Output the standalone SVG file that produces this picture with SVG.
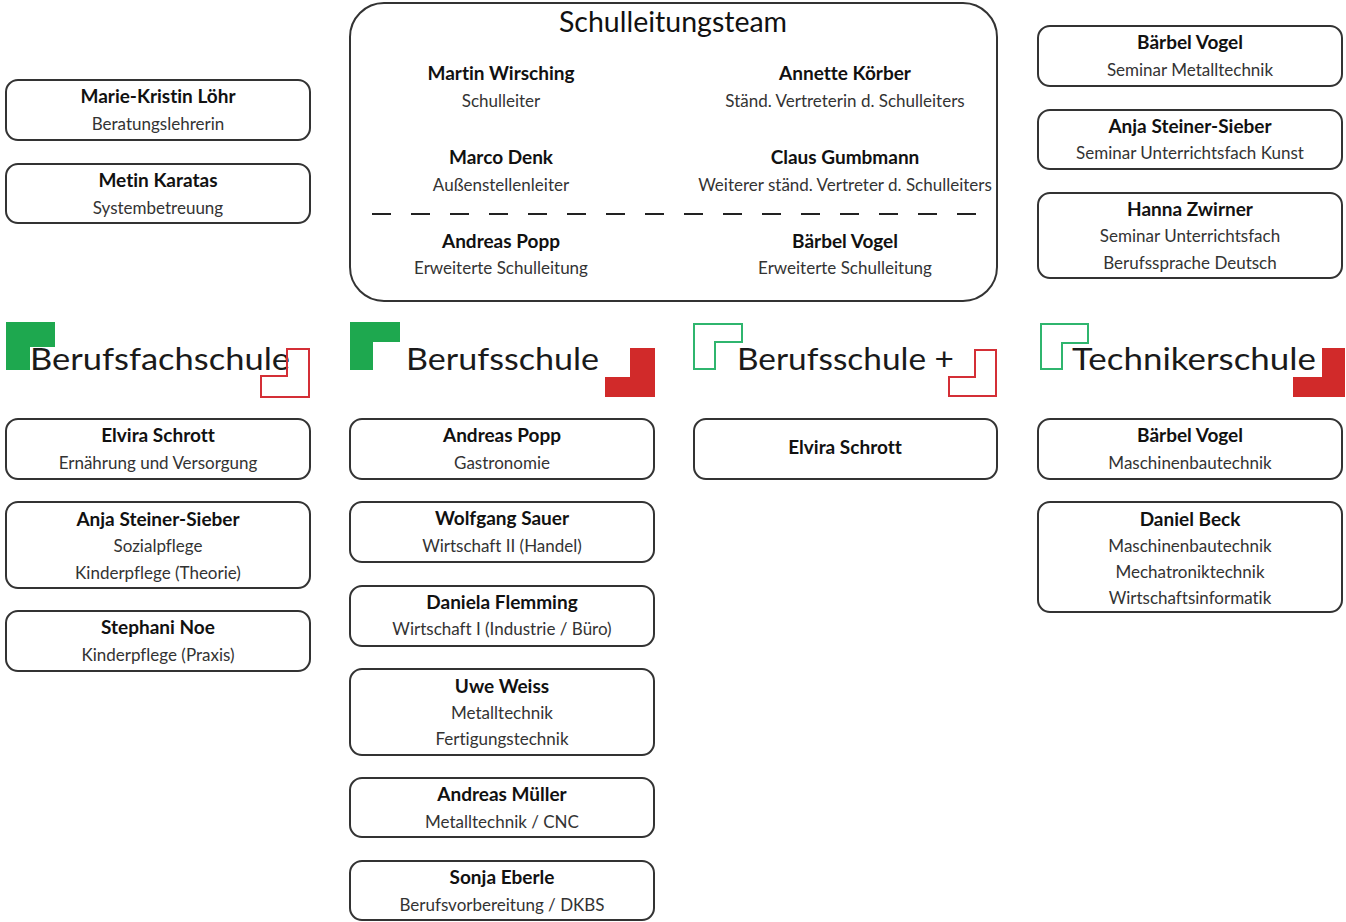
<svg xmlns="http://www.w3.org/2000/svg" width="1346" height="922" viewBox="0 0 1346 922">
<style>
text{font-variant-ligatures:none}
.box{fill:#fff;stroke:#333;stroke-width:2}
.n{font-family:Lato,"Liberation Sans",sans-serif;font-weight:bold;font-size:19px;fill:#111;text-anchor:middle}
.s{font-family:Lato,"Liberation Sans",sans-serif;font-size:17px;fill:#333;text-anchor:middle}
.logo{font-family:Lato,"Liberation Sans",sans-serif;font-size:31px;fill:#1a1a1a}
.gf{fill:#1ea84f}
.rf{fill:#d12a2a}
.go{fill:none;stroke:#2fb56e;stroke-width:2}
.ro{fill:none;stroke:#d42f36;stroke-width:2}
</style>
<rect width="1346" height="922" fill="#fff"/>

<g id="schulleitungsteam">
<rect class="box" x="350" y="3" width="647" height="298" rx="34"/>
<text x="673" y="32" style="font-family:Lato,'Liberation Sans',sans-serif;font-size:28.5px;fill:#111;text-anchor:middle">Schulleitungsteam</text>
<text class="n" x="501" y="80">Martin Wirsching</text>
<text class="s" x="501" y="107">Schulleiter</text>
<text class="n" x="845" y="80">Annette Körber</text>
<text class="s" x="845" y="107">Ständ. Vertreterin d. Schulleiters</text>
<text class="n" x="501" y="164">Marco Denk</text>
<text class="s" x="501" y="191">Außenstellenleiter</text>
<text class="n" x="845" y="164">Claus Gumbmann</text>
<text class="s" x="845" y="191">Weiterer ständ. Vertreter d. Schulleiters</text>
<line x1="372" y1="214" x2="976" y2="214" stroke="#222" stroke-width="2" stroke-dasharray="19 20"/>
<text class="n" x="501" y="248">Andreas Popp</text>
<text class="s" x="501" y="274">Erweiterte Schulleitung</text>
<text class="n" x="845" y="248">Bärbel Vogel</text>
<text class="s" x="845" y="274">Erweiterte Schulleitung</text>
</g>

<g id="loehr"><rect class="box" x="6" y="80" width="304" height="60" rx="12"/>
<text class="n" x="158" y="103">Marie-Kristin Löhr</text><text class="s" x="158" y="130">Beratungslehrerin</text></g>
<g id="karatas"><rect class="box" x="6" y="164" width="304" height="59" rx="12"/>
<text class="n" x="158" y="187">Metin Karatas</text><text class="s" x="158" y="214">Systembetreuung</text></g>

<g id="vogel-seminar"><rect class="box" x="1038" y="26" width="304" height="60" rx="12"/>
<text class="n" x="1190" y="49">Bärbel Vogel</text><text class="s" x="1190" y="76">Seminar Metalltechnik</text></g>
<g id="steiner-seminar"><rect class="box" x="1038" y="110" width="304" height="59" rx="12"/>
<text class="n" x="1190" y="133">Anja Steiner-Sieber</text><text class="s" x="1190" y="159">Seminar Unterrichtsfach Kunst</text></g>
<g id="zwirner"><rect class="box" x="1038" y="193" width="304" height="85" rx="12"/>
<text class="n" x="1190" y="216">Hanna Zwirner</text><text class="s" x="1190" y="242">Seminar Unterrichtsfach</text><text class="s" x="1190" y="269">Berufssprache Deutsch</text></g>

<g id="logo-berufsfachschule">
<polygon class="gf" points="6,322 55,322 55,347 30,347 30,370 6,370"/>
<text class="logo" x="30" y="370" textLength="260" lengthAdjust="spacingAndGlyphs">Berufsfachschule</text>
<polygon class="ro" points="287,349 309,349 309,397 261,397 261,376 287,376"/>
</g>
<g id="logo-berufsschule">
<polygon class="gf" points="350,322 400,322 400,342 373,342 373,370 350,370"/>
<text class="logo" x="406" y="370" textLength="193" lengthAdjust="spacingAndGlyphs">Berufsschule</text>
<polygon class="rf" points="630,348 655,348 655,397 605,397 605,377 630,377"/>
</g>
<g id="logo-berufsschule-plus">
<polygon class="go" points="694,324 742,324 742,342 715,342 715,369 694,369"/>
<text class="logo" x="737" y="370" textLength="217" lengthAdjust="spacingAndGlyphs">Berufsschule +</text>
<polygon class="ro" points="975,350 996,350 996,396 949,396 949,377 975,377"/>
</g>
<g id="logo-technikerschule">
<polygon class="go" points="1041,324 1088,324 1088,343 1062,343 1062,369 1041,369"/>
<text class="logo" x="1072" y="370" textLength="244" lengthAdjust="spacingAndGlyphs">Technikerschule</text>
<polygon class="rf" points="1322,348 1345,348 1345,397 1293,397 1293,377 1322,377"/>
</g>

<g id="bfs-schrott"><rect class="box" x="6" y="419" width="304" height="60" rx="12"/>
<text class="n" x="158" y="442">Elvira Schrott</text><text class="s" x="158" y="469">Ernährung und Versorgung</text></g>
<g id="bfs-steiner"><rect class="box" x="6" y="502" width="304" height="86" rx="12"/>
<text class="n" x="158" y="526">Anja Steiner-Sieber</text><text class="s" x="158" y="552">Sozialpflege</text><text class="s" x="158" y="579">Kinderpflege (Theorie)</text></g>
<g id="bfs-noe"><rect class="box" x="6" y="611" width="304" height="60" rx="12"/>
<text class="n" x="158" y="634">Stephani Noe</text><text class="s" x="158" y="661">Kinderpflege (Praxis)</text></g>

<g id="bs-popp"><rect class="box" x="350" y="419" width="304" height="60" rx="12"/>
<text class="n" x="502" y="442">Andreas Popp</text><text class="s" x="502" y="469">Gastronomie</text></g>
<g id="bs-sauer"><rect class="box" x="350" y="502" width="304" height="60" rx="12"/>
<text class="n" x="502" y="525">Wolfgang Sauer</text><text class="s" x="502" y="552">Wirtschaft II (Handel)</text></g>
<g id="bs-flemming"><rect class="box" x="350" y="586" width="304" height="60" rx="12"/>
<text class="n" x="502" y="609">Daniela Flemming</text><text class="s" x="502" y="635">Wirtschaft I (Industrie / Büro)</text></g>
<g id="bs-weiss"><rect class="box" x="350" y="669" width="304" height="86" rx="12"/>
<text class="n" x="502" y="693">Uwe Weiss</text><text class="s" x="502" y="719">Metalltechnik</text><text class="s" x="502" y="745">Fertigungstechnik</text></g>
<g id="bs-mueller"><rect class="box" x="350" y="778" width="304" height="59" rx="12"/>
<text class="n" x="502" y="801">Andreas Müller</text><text class="s" x="502" y="828">Metalltechnik / CNC</text></g>
<g id="bs-eberle"><rect class="box" x="350" y="861" width="304" height="59" rx="12"/>
<text class="n" x="502" y="884">Sonja Eberle</text><text class="s" x="502" y="911">Berufsvorbereitung / DKBS</text></g>

<g id="bsplus-schrott"><rect class="box" x="694" y="419" width="303" height="60" rx="12"/>
<text class="n" x="845" y="454">Elvira Schrott</text></g>

<g id="ts-vogel"><rect class="box" x="1038" y="419" width="304" height="60" rx="12"/>
<text class="n" x="1190" y="442">Bärbel Vogel</text><text class="s" x="1190" y="469">Maschinenbautechnik</text></g>
<g id="ts-beck"><rect class="box" x="1038" y="502" width="304" height="110" rx="12"/>
<text class="n" x="1190" y="526">Daniel Beck</text><text class="s" x="1190" y="552">Maschinenbautechnik</text><text class="s" x="1190" y="578">Mechatroniktechnik</text><text class="s" x="1190" y="604">Wirtschaftsinformatik</text></g>

<g id="connectors"></g>
</svg>
